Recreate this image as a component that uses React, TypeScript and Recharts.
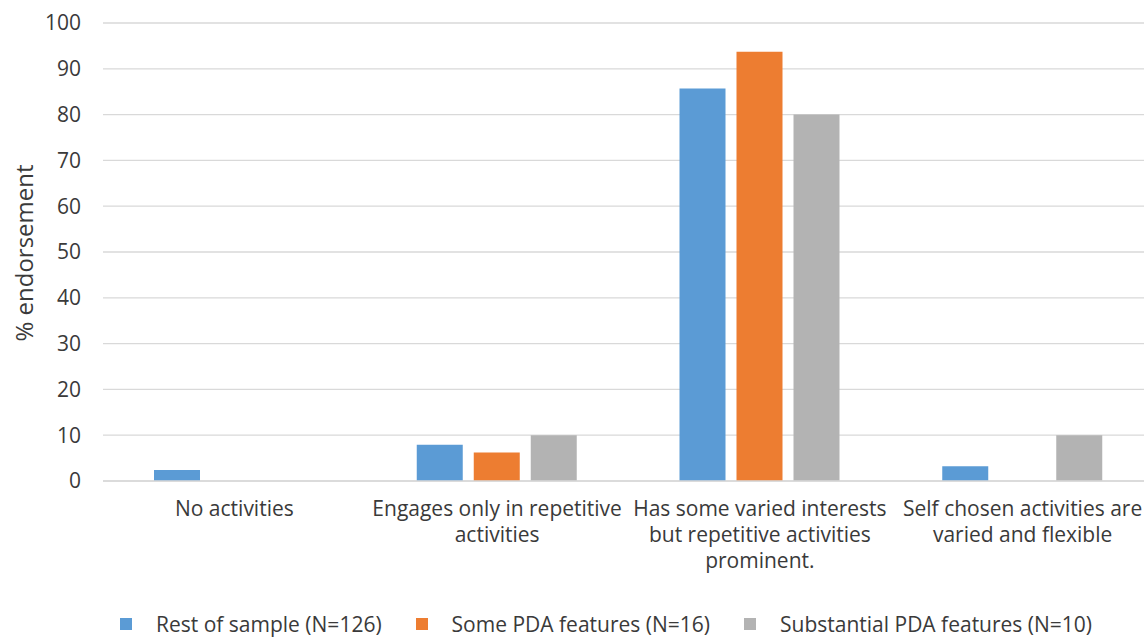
import React from "react";
import {
  BarChart,
  Bar,
  XAxis,
  YAxis,
  CartesianGrid,
  Legend,
} from "recharts";

const categories = [
  "No activities",
  "Engages only in repetitive activities",
  "Has some varied interests but repetitive activities prominent.",
  "Self chosen activities are varied and flexible",
];

// how each category label wraps under the axis
const categoryLines = [
  ["No activities"],
  ["Engages only in repetitive", "activities"],
  ["Has some varied interests", "but repetitive activities", "prominent."],
  ["Self chosen activities are", "varied and flexible"],
];

const restOfSample = [2.4, 7.9, 85.7, 3.2];
const somePda = [0, 6.25, 93.75, 0];
const substantialPda = [0, 10, 80, 10];

const seriesNames = [
  "Rest of sample (N=126)",
  "Some PDA features (N=16)",
  "Substantial PDA features (N=10)",
];

const yTicks = [0, 10, 20, 30, 40, 50, 60, 70, 80, 90, 100];

const COLORS = ["#5B9BD5", "#ED7D31", "#B3B3B3"];
const FONT = "'Open Sans', sans-serif";
const TEXT = "#3a3a3a";

const data = categories.map((name, i) => ({
  name,
  rest: restOfSample[i],
  some: somePda[i],
  substantial: substantialPda[i],
}));

const CategoryTick = (props: {
  x?: number;
  y?: number;
  payload?: { value: string; index: number };
}) => {
  const { x = 0, y = 0, payload } = props;
  const idx = categories.indexOf(payload?.value ?? "");
  const lines = idx >= 0 ? categoryLines[idx] : [payload?.value ?? ""];
  return (
    <text
      x={x}
      y={y + 27}
      textAnchor="middle"
      fill={TEXT}
      fontSize={21}
      fontFamily={FONT}
    >
      {lines.map((line, i) => (
        <tspan key={i} x={x} dy={i === 0 ? 0 : 26}>
          {line}
        </tspan>
      ))}
    </text>
  );
};

const LegendContent = (props: {
  payload?: Array<{ value: string; color: string }>;
}) => {
  const { payload = [] } = props;
  return (
    <div
      style={{
        height: 46,
        paddingTop: 20,
        paddingLeft: 120,
        boxSizing: "border-box",
        display: "flex",
        alignItems: "center",
        fontFamily: FONT,
        fontSize: 21,
        color: TEXT,
        lineHeight: "26px",
      }}
    >
      {payload.map((item, i) => (
        <div key={i} style={{ display: "flex", alignItems: "center", marginRight: 34 }}>
          <span
            style={{
              display: "inline-block",
              width: 12,
              height: 12,
              background: item.color,
              marginRight: 24,
            }}
          />
          <span style={{ whiteSpace: "nowrap" }}>{item.value}</span>
        </div>
      ))}
    </div>
  );
};

const YLabel = (props: { viewBox?: { x: number; y: number; width: number; height: number } }) => {
  const vb = props.viewBox ?? { x: 0, y: 0, width: 0, height: 0 };
  const cx = 33;
  const cy = vb.y + vb.height / 2 + 1;
  return (
    <text
      x={cx}
      y={cy}
      transform={`rotate(-90, ${cx}, ${cy})`}
      textAnchor="middle"
      fontSize={24}
      fontFamily={FONT}
      fill={TEXT}
    >
      % endorsement
    </text>
  );
};

export default function App() {
  return (
    <div style={{ position: "absolute", left: 0, top: 0, width: 1144, height: 637, overflow: "hidden", background: "#fff" }}>
      <style>{`body{margin:0;overflow:hidden}`}</style>
      <BarChart
        width={1154}
        height={637}
        data={data}
        margin={{ top: 23, right: 0, bottom: 0, left: 0 }}
        barCategoryGap={51}
        barGap={11}
      >
        <CartesianGrid vertical={false} stroke="#D9D9D9" strokeWidth={1.3} />
        <XAxis
          dataKey="name"
          height={110}
          tickLine={false}
          axisLine={{ stroke: "#D9D9D9", strokeWidth: 1.3 }}
          tick={<CategoryTick />}
          interval={0}
        />
        <YAxis
          width={103}
          domain={[0, 100]}
          ticks={yTicks}
          tickLine={false}
          axisLine={false}
          tickMargin={16}
          tick={{ fontSize: 21, fontFamily: FONT, fill: TEXT }}
          label={<YLabel />}
        />
        <Legend
          verticalAlign="bottom"
          align="left"
          height={46}
          content={<LegendContent />}
          wrapperStyle={{ left: 0, width: 1144 }}
        />
        <Bar dataKey="rest" name={seriesNames[0]} fill={COLORS[0]} isAnimationActive={false} />
        <Bar dataKey="some" name={seriesNames[1]} fill={COLORS[1]} isAnimationActive={false} />
        <Bar dataKey="substantial" name={seriesNames[2]} fill={COLORS[2]} isAnimationActive={false} />
      </BarChart>
    </div>
  );
}
